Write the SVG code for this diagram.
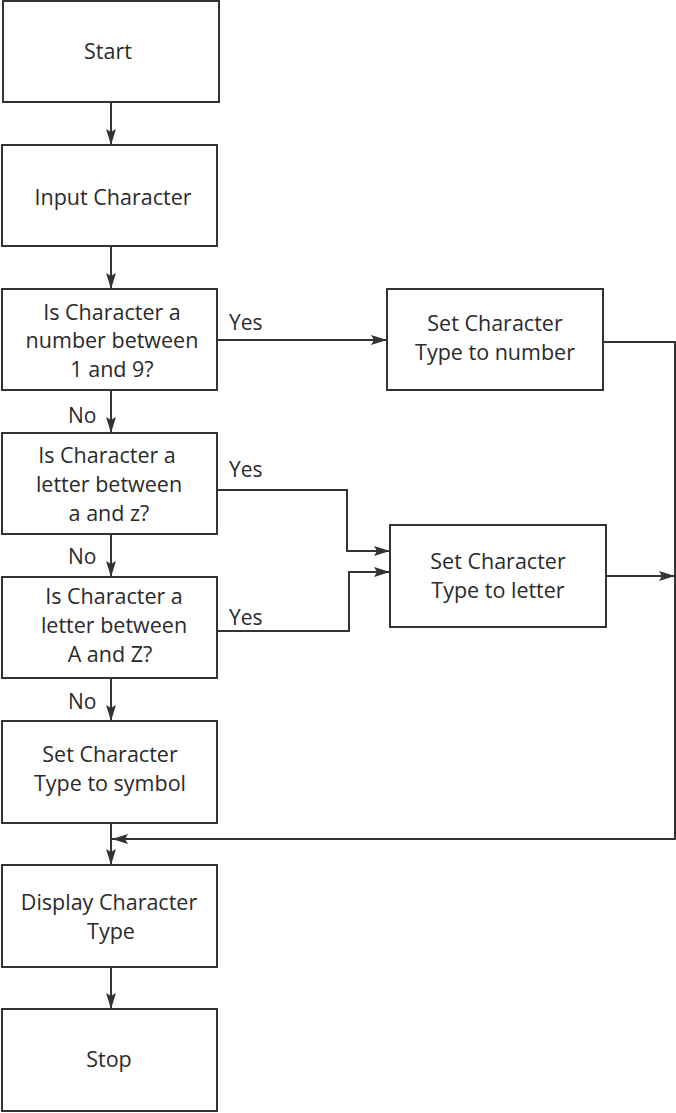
<svg xmlns="http://www.w3.org/2000/svg" width="676" height="1113" viewBox="0 0 676 1113">
<style>
.box{fill:#fff;stroke:#333;stroke-width:2}
.t{font-family:"Open Sans","Liberation Sans",sans-serif;font-size:21.5px;fill:#2a2a2a;text-anchor:middle}
.l{font-family:"Open Sans","Liberation Sans",sans-serif;font-size:21px;fill:#2a2a2a}
.c{fill:none;stroke:#333;stroke-width:2}
</style>
<defs>
<marker id="ah" markerWidth="16" markerHeight="10" refX="16" refY="5" orient="auto" markerUnits="userSpaceOnUse">
<path d="M0,0 L16,5 L0,10 L3,5 Z" fill="#333"/>
</marker>
</defs>
<rect width="676" height="1113" fill="#fff"/>
<g id="connectors">
<path class="c" d="M111,102 V145" marker-end="url(#ah)"/>
<path class="c" d="M111,246 V289" marker-end="url(#ah)"/>
<path class="c" d="M217,340 H387" marker-end="url(#ah)"/>
<path class="c" d="M111,390 V433" marker-end="url(#ah)"/>
<path class="c" d="M217,490 H347 V551 H390" marker-end="url(#ah)"/>
<path class="c" d="M111,534 V577" marker-end="url(#ah)"/>
<path class="c" d="M215,631 H349 V572 H390" marker-end="url(#ah)"/>
<path class="c" d="M111,678 V721" marker-end="url(#ah)"/>
<path class="c" d="M606,576 H675" marker-end="url(#ah)"/>
<path class="c" d="M603,342 H675 V839 H112" marker-end="url(#ah)"/>
<path class="c" d="M111,823 V865" marker-end="url(#ah)"/>
<path class="c" d="M111,967 V1009" marker-end="url(#ah)"/>
<text class="l" x="229" y="330">Yes</text>
<text class="l" x="229" y="477">Yes</text>
<text class="l" x="229" y="625">Yes</text>
<text class="l" x="68" y="423">No</text>
<text class="l" x="68" y="564">No</text>
<text class="l" x="68" y="709">No</text>
</g>
<g id="start"><rect class="box" x="3" y="1" width="216" height="101"/><text class="t" x="108" y="59">Start</text></g>
<g id="input"><rect class="box" x="2" y="145" width="215" height="101"/><text class="t" x="113" y="205">Input Character</text></g>
<g id="dec1"><rect class="box" x="2" y="289" width="215" height="101"/><text class="t" x="112" y="320">Is Character a</text><text class="t" x="112" y="348">number between</text><text class="t" x="112" y="377">1 and 9?</text></g>
<g id="setnum"><rect class="box" x="387" y="289" width="216" height="101"/><text class="t" x="495" y="331">Set Character</text><text class="t" x="495" y="360">Type to number</text></g>
<g id="dec2"><rect class="box" x="2" y="433" width="215" height="101"/><text class="t" x="107" y="463">Is Character a</text><text class="t" x="109" y="492">letter between</text><text class="t" x="109" y="521">a and z?</text></g>
<g id="setletter"><rect class="box" x="390" y="525" width="216" height="102"/><text class="t" x="498" y="569">Set Character</text><text class="t" x="498" y="598">Type to letter</text></g>
<g id="dec3"><rect class="box" x="2" y="577" width="215" height="101"/><text class="t" x="114" y="604">Is Character a</text><text class="t" x="114" y="633">letter between</text><text class="t" x="110" y="662">A and Z?</text></g>
<g id="symbol"><rect class="box" x="2" y="721" width="215" height="102"/><text class="t" x="110" y="762">Set Character</text><text class="t" x="110" y="791">Type to symbol</text></g>
<g id="display"><rect class="box" x="2" y="865" width="215" height="102"/><text class="t" x="109" y="910">Display Character</text><text class="t" x="111" y="939">Type</text></g>
<g id="stop"><rect class="box" x="2" y="1009" width="215" height="102"/><text class="t" x="109" y="1067">Stop</text></g>
</svg>
